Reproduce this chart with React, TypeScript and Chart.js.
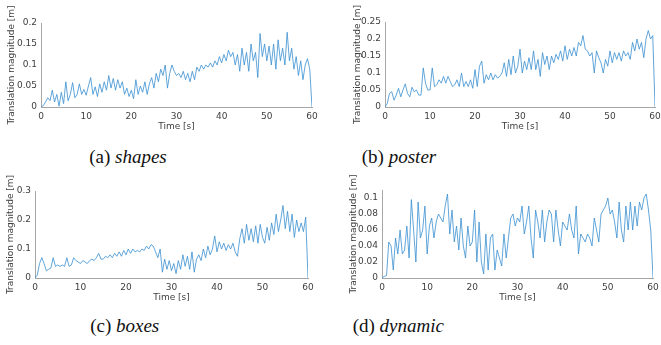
import React, { useEffect, useRef } from "react";
import { Chart, registerables } from "chart.js";

Chart.register(...registerables);

// ---- data (translation magnitude in metres, sampled every 0.5 s from 0 to 60 s) ----
const SAMPLE_STEP_S = 0.5;
const X_TICKS = [0, 10, 20, 30, 40, 50, 60];

const SHAPES = [
  0, 0.003, 0.012, 0.022, 0.015, 0.04, 0.012, 0.03, 0.002, 0.035,
  0.008, 0.06, 0.015, 0.03, 0.058, 0.022, 0.03, 0.055, 0.03, 0.042,
  0.028, 0.05, 0.07, 0.03, 0.048, 0.025, 0.055, 0.035, 0.06, 0.04,
  0.075, 0.045, 0.068, 0.04, 0.065, 0.045, 0.06, 0.03, 0.045, 0.025,
  0.04, 0.02, 0.065, 0.03, 0.05, 0.035, 0.06, 0.03, 0.055, 0.07,
  0.045, 0.08, 0.06, 0.09, 0.075, 0.1, 0.045, 0.08, 0.1, 0.085,
  0.075, 0.08, 0.07, 0.085, 0.065, 0.08, 0.06, 0.085, 0.065, 0.095,
  0.085, 0.1, 0.09, 0.1, 0.095, 0.105, 0.095, 0.11, 0.1, 0.12,
  0.105, 0.125, 0.11, 0.135, 0.12, 0.13, 0.1, 0.125, 0.085, 0.14,
  0.1, 0.13, 0.085, 0.15, 0.11, 0.13, 0.07, 0.175, 0.12, 0.15,
  0.11, 0.145, 0.1, 0.15, 0.09, 0.16, 0.11, 0.14, 0.1, 0.178,
  0.11, 0.14, 0.09, 0.12, 0.075, 0.11, 0.065, 0.1, 0.115, 0.09,
  0,
];

const POSTER = [
  0, 0.01, 0.04, 0.045, 0.02, 0.035, 0.055, 0.03, 0.05, 0.068,
  0.04, 0.03, 0.058, 0.045, 0.05, 0.035, 0.035, 0.115, 0.07, 0.05,
  0.05, 0.115, 0.06, 0.065, 0.08, 0.07, 0.09, 0.07, 0.09, 0.075,
  0.06, 0.065, 0.08, 0.06, 0.1, 0.06, 0.075, 0.06, 0.08, 0.055,
  0.11, 0.06, 0.12, 0.135, 0.07, 0.095, 0.08, 0.1, 0.08, 0.095,
  0.085, 0.09, 0.1, 0.13, 0.09, 0.14, 0.095, 0.15, 0.1, 0.12,
  0.17, 0.1, 0.135, 0.11, 0.145, 0.11, 0.165, 0.11, 0.14, 0.09,
  0.16, 0.125, 0.15, 0.11, 0.15, 0.13, 0.155, 0.14, 0.165, 0.135,
  0.18, 0.14, 0.17, 0.15, 0.175, 0.15, 0.19, 0.18, 0.21, 0.17,
  0.165, 0.15, 0.16, 0.1, 0.165, 0.145, 0.13, 0.1, 0.14, 0.12,
  0.165, 0.13, 0.16, 0.14, 0.16, 0.135, 0.165, 0.15, 0.16, 0.14,
  0.19, 0.165, 0.2, 0.17, 0.19, 0.145, 0.2, 0.225, 0.2, 0.21,
  0,
];

const BOXES = [
  0, 0.01, 0.05, 0.07, 0.05, 0.025, 0.03, 0.035, 0.07, 0.04,
  0.045, 0.04, 0.045, 0.04, 0.07, 0.04, 0.045, 0.07, 0.06, 0.055,
  0.05, 0.06, 0.055, 0.05, 0.06, 0.065, 0.06, 0.07, 0.085, 0.065,
  0.065, 0.075, 0.07, 0.08, 0.07, 0.085, 0.075, 0.09, 0.075, 0.095,
  0.08, 0.1, 0.085, 0.1, 0.09, 0.095, 0.09, 0.1, 0.095, 0.11,
  0.1, 0.115, 0.11, 0.09, 0.07, 0.1, 0.02, 0.065, 0.03, 0.06,
  0.025, 0.05, 0.015, 0.06, 0.03, 0.08, 0.04, 0.075, 0.03, 0.09,
  0.02, 0.065, 0.08, 0.06, 0.1, 0.07, 0.11, 0.08, 0.1, 0.145,
  0.09, 0.125, 0.1, 0.12, 0.095, 0.115, 0.1, 0.12, 0.09, 0.075,
  0.135, 0.17, 0.12, 0.185, 0.13, 0.17, 0.125, 0.18, 0.12, 0.185,
  0.14, 0.12, 0.175, 0.13, 0.19, 0.15, 0.22, 0.16, 0.2, 0.25,
  0.17, 0.23, 0.16, 0.22, 0.14, 0.2, 0.16, 0.19, 0.16, 0.21,
  0,
];

const DYNAMIC = [
  0, 0.002, 0.003, 0.045, 0.04, 0.01, 0.05, 0.03, 0.06, 0.03,
  0.035, 0.065, 0.025, 0.098, 0.06, 0.02, 0.095, 0.05, 0.06, 0.09,
  0.03, 0.065, 0.075, 0.05, 0.07, 0.08, 0.075, 0.07, 0.09, 0.105,
  0.055, 0.085, 0.045, 0.065, 0.035, 0.075, 0.04, 0.025, 0.065, 0.04,
  0.045, 0.085, 0.02, 0.07, 0.02, 0.005, 0.055, 0.01, 0.05, 0.055,
  0.01, 0.035, 0.025, 0.015, 0.055, 0.025, 0.05, 0.075, 0.08, 0.065,
  0.075, 0.07, 0.09, 0.055, 0.07, 0.09, 0.05, 0.025, 0.085, 0.07,
  0.05, 0.085, 0.045, 0.07, 0.085, 0.08, 0.045, 0.085, 0.06, 0.04,
  0.07, 0.065, 0.06, 0.08, 0.06, 0.05, 0.09, 0.03, 0.055, 0.05,
  0.045, 0.055, 0.05, 0.04, 0.075, 0.06, 0.045, 0.08, 0.085, 0.09,
  0.1, 0.08, 0.085, 0.07, 0.05, 0.095, 0.06, 0.045, 0.09, 0.06,
  0.095, 0.06, 0.09, 0.065, 0.095, 0.085, 0.1, 0.105, 0.085, 0.06,
  0,
];

const SHAPES_Y_TICKS = [0, 0.05, 0.1, 0.15, 0.2];
const POSTER_Y_TICKS = [0, 0.05, 0.1, 0.15, 0.2, 0.25];
const BOXES_Y_TICKS = [0, 0.1, 0.2, 0.3];
const DYNAMIC_Y_TICKS = [0, 0.02, 0.04, 0.06, 0.08, 0.1];

const Y_TITLE = "Translation magnitude [m]";
const X_TITLE = "Time [s]";

const LINE_COLOR = "#3a8fd0";
const TEXT_COLOR = "#404040";
const AXIS_COLOR = "#a6a6a6";

type Box = { left: number; top: number; right: number; bottom: number };
type PanelProps = {
  left: number;
  top: number;
  width: number;
  height: number;
  plot: Box;
  yTitleX: number;
  xTitleY: number;
  yMax: number;
  yTicks: number[];
  values: number[];
};

function Panel(p: PanelProps) {
  const ref = useRef<HTMLCanvasElement>(null);
  useEffect(() => {
    const fontSize = 9;
    const lh = fontSize * 1.2;
    const font = { family: "DejaVu Sans", size: fontSize };
    const chart = new Chart(ref.current as HTMLCanvasElement, {
      type: "line",
      data: {
        datasets: [
          {
            data: p.values.map((v, i) => ({ x: i * SAMPLE_STEP_S, y: v })),
            borderColor: LINE_COLOR,
            borderWidth: 0.8,
            pointRadius: 0,
            tension: 0,
            fill: false,
          },
        ],
      },
      options: {
        animation: false,
        responsive: false,
        maintainAspectRatio: false,
        events: [],
        layout: {
          padding: { left: 0, top: p.plot.top, right: p.width - p.plot.right, bottom: 0 },
        },
        plugins: { legend: { display: false }, tooltip: { enabled: false } },
        scales: {
          x: {
            type: "linear",
            min: 0,
            max: 60,
            afterBuildTicks: (s: any) => {
              s.ticks = X_TICKS.map((v) => ({ value: v }));
            },
            afterFit: (s: any) => {
              s.height = p.height - p.plot.bottom;
              s.paddingLeft = 0;
              s.paddingRight = 0;
            },
            grid: { display: false, drawTicks: false, tickLength: 0 },
            border: { display: true, color: AXIS_COLOR, width: 1 },
            ticks: { font, color: TEXT_COLOR, padding: 4, maxRotation: 0, autoSkip: false },
            title: {
              display: true,
              text: X_TITLE,
              font,
              color: TEXT_COLOR,
              padding: { top: 0, bottom: p.height - p.xTitleY - lh / 2 },
            },
          },
          y: {
            type: "linear",
            min: 0,
            max: p.yMax,
            afterBuildTicks: (s: any) => {
              s.ticks = p.yTicks.map((v) => ({ value: v }));
            },
            afterFit: (s: any) => {
              s.width = p.plot.left;
              s.paddingTop = 0;
              s.paddingBottom = 0;
            },
            grid: { display: false, drawTicks: false, tickLength: 0 },
            border: { display: true, color: AXIS_COLOR, width: 1 },
            ticks: {
              font,
              color: TEXT_COLOR,
              padding: 4,
              autoSkip: false,
              callback: (v: any) => String(Math.round(Number(v) * 1000) / 1000),
            },
            title: {
              display: true,
              text: Y_TITLE,
              font,
              color: TEXT_COLOR,
              padding: { top: p.yTitleX - lh / 2, bottom: 0 },
            },
          },
        },
      },
    } as any);
    return () => chart.destroy();
  }, []);
  return (
    <canvas
      ref={ref}
      width={p.width}
      height={p.height}
      style={{ position: "absolute", left: p.left, top: p.top, width: p.width, height: p.height }}
    />
  );
}

function Caption(props: { cx: number; top: number; tag: string; name: string }) {
  return (
    <div
      style={{
        position: "absolute",
        left: props.cx - 100,
        top: props.top,
        width: 200,
        textAlign: "center",
        fontFamily: "'Liberation Serif', serif",
        fontSize: 19,
        lineHeight: "19px",
        color: "#111",
        whiteSpace: "nowrap",
      }}
    >
      {props.tag} <i>{props.name}</i>
    </div>
  );
}

export default function App() {
  return (
    <div
      style={{
        position: "absolute",
        left: 0,
        top: 0,
        width: 661,
        height: 345,
        background: "#fff",
        overflow: "hidden",
      }}
    >
      <Panel
        left={0}
        top={0}
        width={330}
        height={140}
        plot={{ left: 41, top: 23, right: 312, bottom: 107 }}
        yTitleX={12}
        xTitleY={127}
        yMax={0.2}
        yTicks={SHAPES_Y_TICKS}
        values={SHAPES}
      />
      <Panel
        left={330}
        top={0}
        width={331}
        height={140}
        plot={{ left: 55, top: 22, right: 325, bottom: 107 }}
        yTitleX={28}
        xTitleY={127}
        yMax={0.25}
        yTicks={POSTER_Y_TICKS}
        values={POSTER}
      />
      <Panel
        left={0}
        top={175}
        width={330}
        height={135}
        plot={{ left: 35, top: 16, right: 308, bottom: 103 }}
        yTitleX={11}
        xTitleY={122.7}
        yMax={0.3}
        yTicks={BOXES_Y_TICKS}
        values={BOXES}
      />
      <Panel
        left={330}
        top={175}
        width={331}
        height={135}
        plot={{ left: 52, top: 15, right: 323, bottom: 103 }}
        yTitleX={24}
        xTitleY={122.7}
        yMax={0.11}
        yTicks={DYNAMIC_Y_TICKS}
        values={DYNAMIC}
      />
      <Caption cx={128} top={147.4} tag="(a)" name="shapes" />
      <Caption cx={399} top={147.4} tag="(b)" name="poster" />
      <Caption cx={124.7} top={316.3} tag="(c)" name="boxes" />
      <Caption cx={398.3} top={316.3} tag="(d)" name="dynamic" />
    </div>
  );
}
